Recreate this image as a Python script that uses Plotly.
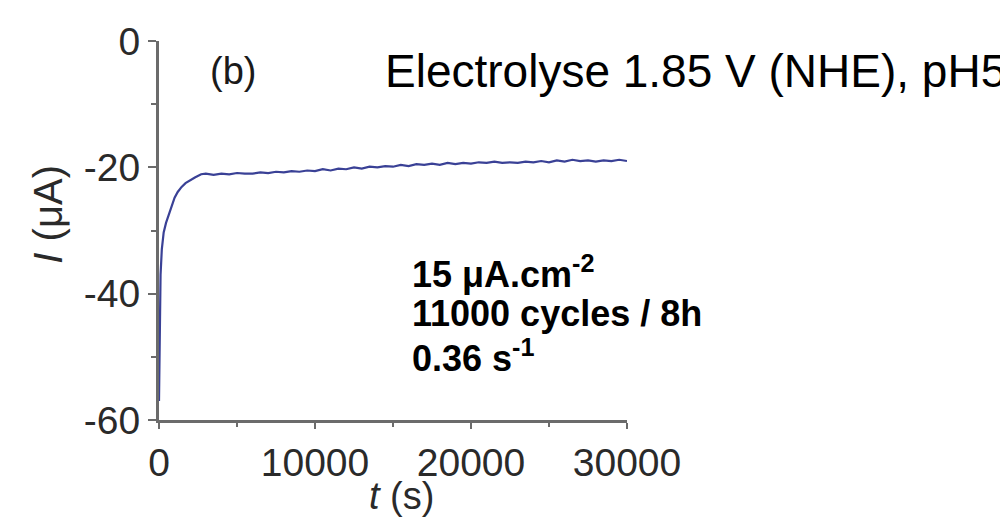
import plotly.graph_objects as go

# ---- data ----
t_s = [0, 40, 100, 180, 300, 450, 600, 800, 1000, 1200, 1450, 1700, 2000, 2300, 2700,
       3000, 3500, 4000, 4500, 5000, 5500, 6000, 6500, 7000, 7500, 8000, 8500, 9000, 9500,
       10000, 10500, 11000, 11500, 12000, 12500, 13000, 13500, 14000, 14500, 15000, 15500,
       16000, 16500, 17000, 17500, 18000, 18500, 19000, 19500, 20000, 20500, 21000, 21500,
       22000, 22500, 23000, 23500, 24000, 24500, 25000, 25500, 26000, 26500, 27000, 27500,
       28000, 28500, 29000, 29500, 30000]
current_uA = [-57, -44, -37, -33, -30.3, -28.8, -27.6, -26.0, -24.8, -23.9, -23.1, -22.5, -22.0, -21.6, -21.1,
              -21.0, -21.2, -21.0, -21.1, -20.9, -21.0, -21.0, -20.8, -20.9, -20.7, -20.8, -20.6, -20.7, -20.5,
              -20.6, -20.3, -20.5, -20.2, -20.3, -20.0, -20.2, -19.9, -20.0, -19.8, -19.9, -19.6,
              -19.8, -19.5, -19.6, -19.4, -19.6, -19.3, -19.5, -19.3, -19.4, -19.2, -19.3, -19.1,
              -19.3, -19.2, -19.3, -19.1, -19.2, -19.0, -19.2, -18.9, -19.1, -18.8, -19.0, -18.9,
              -19.1, -18.9, -19.0, -18.8, -19.0]

x_ticks = [0, 10000, 20000, 30000]
y_ticks = [0, -20, -40, -60]

title_text = "Electrolyse 1.85 V (NHE), pH5"
panel_label = "(b)"
info_lines = ["15 μA.cm<sup>-2</sup>", "11000 cycles / 8h", "0.36 s<sup>-1</sup>"]

# ---- layout geometry ----
W, H = 1008, 518
L, R, T, B = 151, 389, 30, 106
PW, PH = W - L - R, H - T - B


def px(xp):
    return (xp - L) / PW


def py(yp):
    return (H - B - yp) / PH


FONT = "Liberation Sans, Arial, Helvetica, sans-serif"
AX_COLOR = "#6b6b6b"

fig = go.Figure()
fig.add_trace(go.Scatter(x=t_s, y=current_uA, mode="lines",
                         line=dict(color="#3a4196", width=2.2), showlegend=False,
                         hoverinfo="skip"))

common_axis = dict(showgrid=False, zeroline=False, showline=True, linecolor=AX_COLOR,
                   linewidth=3, ticks="outside", tickwidth=2, tickcolor=AX_COLOR,
                   tickfont=dict(family=FONT, size=39, color="#2a2a2a"), mirror=False)

fig.update_xaxes(range=[0, 30000], tickvals=x_ticks, ticktext=[str(v) for v in x_ticks],
                 ticklen=6,
                 minor=dict(dtick=5000, ticklen=4, tickwidth=2, tickcolor=AX_COLOR, ticks="outside"),
                 **common_axis)
fig.update_yaxes(range=[-60, 0], tickvals=y_ticks, ticktext=[str(v) for v in y_ticks],
                 ticklen=8,
                 minor=dict(dtick=10, ticklen=5, tickwidth=2, tickcolor=AX_COLOR, ticks="outside"),
                 **common_axis)

annotations = [
    dict(text=title_text, x=px(1000), y=py(60), xref="paper", yref="paper",
         showarrow=False, xanchor="right", yanchor="middle",
         font=dict(family=FONT, size=46, color="#000000")),
    dict(text=panel_label, x=px(225), y=py(60), xref="paper", yref="paper",
         showarrow=False, xanchor="center", yanchor="middle",
         font=dict(family=FONT, size=38, color="#1a1a1a")),
    dict(text="<i>t</i> (s)", x=px(393), y=py(512), xref="paper", yref="paper",
         showarrow=False, xanchor="center", yanchor="bottom",
         font=dict(family=FONT, size=38, color="#2a2a2a")),
    dict(text="<i>I</i> (μA)", x=px(40), y=py(205), xref="paper", yref="paper",
         showarrow=False, xanchor="center", yanchor="middle", textangle=-90,
         font=dict(family=FONT, size=40, color="#2a2a2a")),
]
line_y = [263, 305, 347]
for txt, yy in zip(info_lines, line_y):
    annotations.append(dict(text="<b>" + txt + "</b>", x=px(402), y=py(yy), xref="paper",
                            yref="paper", showarrow=False, xanchor="left", yanchor="middle",
                            font=dict(family=FONT, size=36, color="#000000")))

fig.update_layout(width=W, height=H, margin=dict(l=L, r=R, t=T, b=B, pad=0),
                  paper_bgcolor="white", plot_bgcolor="white", annotations=annotations,
                  showlegend=False)

fig.write_html("out.html")
